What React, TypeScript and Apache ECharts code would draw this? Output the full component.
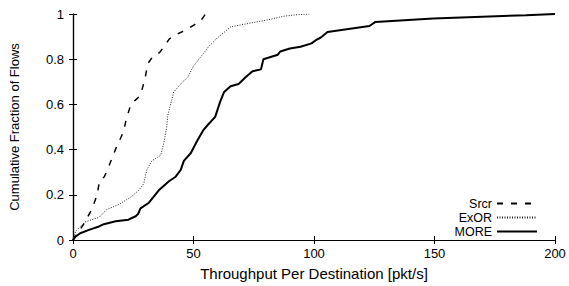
import React, { useEffect, useRef } from "react";
import * as echarts from "echarts";

const xTicks = [0, 50, 100, 150, 200];
const yTicks = [0, 0.2, 0.4, 0.6, 0.8, 1];

const srcrX = [0, 2, 5, 8, 10, 11, 13, 15, 18, 21, 22, 24, 26, 28, 30, 31, 33, 36, 38, 40, 43, 47, 50, 53, 55];
const srcrY = [0, 0.03, 0.08, 0.14, 0.2, 0.26, 0.28, 0.33, 0.41, 0.48, 0.53, 0.6, 0.62, 0.64, 0.72, 0.78, 0.81, 0.83, 0.86, 0.89, 0.91, 0.93, 0.95, 0.97, 1];

const exorX = [0, 1.2, 5, 10.8, 14, 19, 24, 27.3, 29.4, 30.6, 32.7, 36.4, 37.7, 38.9, 39.3, 41.8, 45.5, 47.6, 50, 53, 56.3, 60, 65.4, 73.7, 80.7, 87.4, 93, 98];
const exorY = [0, 0.04, 0.08, 0.1, 0.135, 0.157, 0.19, 0.22, 0.25, 0.31, 0.35, 0.375, 0.43, 0.5, 0.55, 0.655, 0.7, 0.72, 0.77, 0.81, 0.856, 0.895, 0.943, 0.96, 0.974, 0.99, 0.997, 1];

const moreX = [0, 1, 3, 6.6, 10.8, 12.8, 17.7, 23, 26, 27, 28, 31.5, 35.6, 39.8, 42.6, 44.7, 46, 48.9, 51.6, 54, 56, 59, 61, 62.7, 65.4, 68.7, 71.6, 74.5, 78, 79, 85, 86, 90, 94.4, 99, 101, 102.7, 105.6, 123, 125.5, 149.5, 188, 200];
const moreY = [0, 0.015, 0.03, 0.045, 0.06, 0.07, 0.083, 0.09, 0.105, 0.115, 0.14, 0.165, 0.22, 0.26, 0.28, 0.31, 0.35, 0.385, 0.44, 0.485, 0.51, 0.545, 0.61, 0.655, 0.68, 0.69, 0.72, 0.747, 0.755, 0.8, 0.82, 0.834, 0.847, 0.855, 0.87, 0.886, 0.895, 0.92, 0.947, 0.965, 0.98, 0.995, 1];

const zip = (xs: number[], ys: number[]) => xs.map((x, i) => [x, ys[i]]);

const FONT = "'Liberation Sans', Arial, Helvetica, sans-serif";

export default function App() {
  const ref = useRef<HTMLDivElement>(null);
  useEffect(() => {
    if (!ref.current) return;
    const chart = echarts.init(ref.current, undefined, { renderer: "svg" });
    const axisLine = { show: true, lineStyle: { color: "#000", width: 1.2 } };
    const tick = { show: true, inside: true, length: 4, lineStyle: { color: "#000", width: 1 } };
    chart.setOption({
      animation: false,
      backgroundColor: "#fff",
      textStyle: { fontFamily: FONT, color: "#000" },
      grid: { left: 72, right: 14, top: 14, bottom: 43 },
      legend: {
        orient: "vertical",
        right: 26,
        top: 192,
        align: "right",
        itemWidth: 40,
        itemHeight: 12,
        itemGap: 1,
        itemStyle: { opacity: 0 },
        textStyle: { fontSize: 12.5, lineHeight: 12, color: "#000", fontFamily: FONT },
        data: ["Srcr", "ExOR", "MORE"],
      },
      xAxis: [
        {
          type: "value",
          min: xTicks[0],
          max: xTicks[xTicks.length - 1],
          interval: 50,
          name: "Throughput Per Destination [pkt/s]",
          nameLocation: "middle",
          nameGap: 26,
          nameTextStyle: { fontSize: 15, color: "#000", fontFamily: FONT },
          axisLine,
          axisTick: tick,
          splitLine: { show: false },
          axisLabel: { fontSize: 13, color: "#000", margin: 7, fontFamily: FONT },
        },
        {
          type: "value",
          position: "top",
          min: 0,
          max: 200,
          interval: 50,
          axisLine,
          axisTick: tick,
          axisLabel: { show: false },
          splitLine: { show: false },
        },
      ],
      yAxis: [
        {
          type: "value",
          min: yTicks[0],
          max: yTicks[yTicks.length - 1],
          interval: 0.2,
          name: "Cumulative Fraction of Flows",
          nameLocation: "middle",
          nameGap: 52,
          nameTextStyle: { fontSize: 13, color: "#000", fontFamily: FONT },
          axisLine,
          axisTick: tick,
          splitLine: { show: false },
          axisLabel: {
            fontSize: 13,
            color: "#000",
            margin: 9,
            fontFamily: FONT,
            formatter: (v: number) => String(Math.round(v * 10) / 10),
          },
        },
        {
          type: "value",
          position: "right",
          min: 0,
          max: 1,
          interval: 0.2,
          axisLine,
          axisTick: tick,
          axisLabel: { show: false },
          splitLine: { show: false },
        },
      ],
      series: [
        {
          name: "Srcr",
          type: "line",
          symbol: "none",
          data: zip(srcrX, srcrY),
          lineStyle: { color: "#000", width: 1.5, type: [6, 8] },
          itemStyle: { color: "#000" },
        },
        {
          name: "ExOR",
          type: "line",
          symbol: "none",
          data: zip(exorX, exorY),
          lineStyle: { color: "#222", width: 1, type: [1, 1.5] },
          itemStyle: { color: "#222" },
        },
        {
          name: "MORE",
          type: "line",
          symbol: "none",
          data: zip(moreX, moreY),
          lineStyle: { color: "#000", width: 2 },
          itemStyle: { color: "#000" },
        },
      ],
    });
    return () => chart.dispose();
  }, []);
  return <div ref={ref} style={{ width: 569, height: 286, position: "absolute", left: 0, top: 0 }} />;
}
